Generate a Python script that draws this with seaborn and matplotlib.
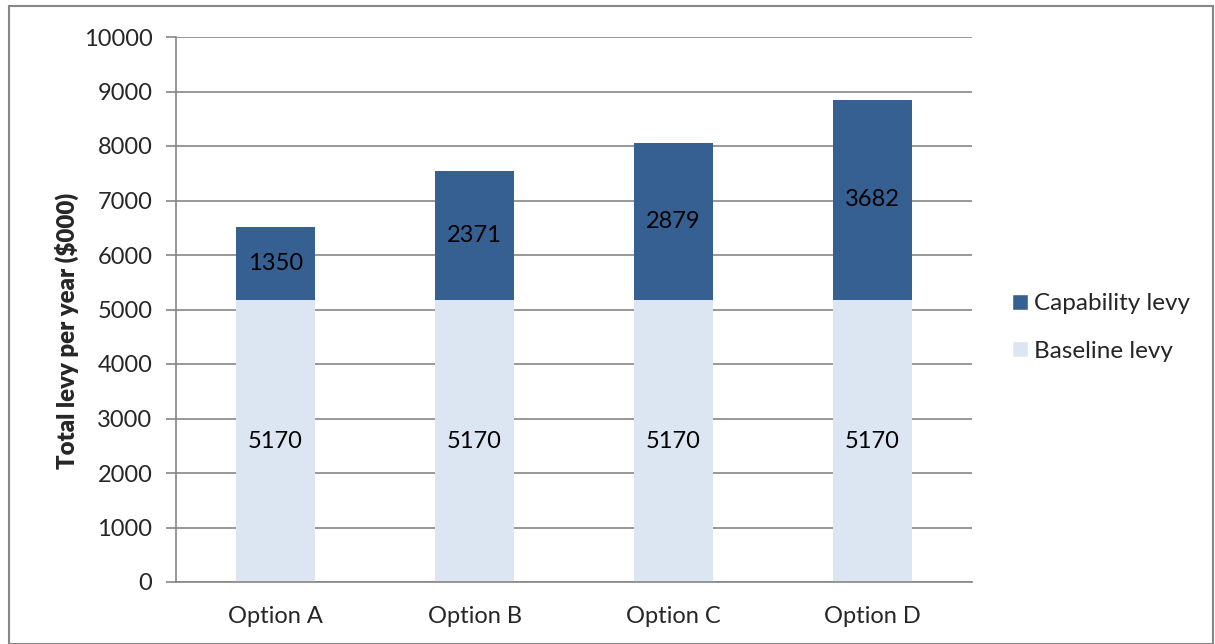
import matplotlib
matplotlib.use("Agg")
import matplotlib.pyplot as plt
import seaborn as sns
import pandas as pd
from matplotlib.patches import Rectangle, Patch

categories = ["Option A", "Option B", "Option C", "Option D"]
baseline = [5170, 5170, 5170, 5170]
capability = [1350, 2371, 2879, 3682]
yticks = [0, 1000, 2000, 3000, 4000, 5000, 6000, 7000, 8000, 9000, 10000]

sns.set_theme(style="white")
plt.rcParams['font.family'] = ['Lato', 'DejaVu Sans']

W, H = 1215, 644
fig = plt.figure(figsize=(W / 100, H / 100), dpi=100)
ax = fig.add_axes([176 / W, 1 - 582 / H, (972 - 176) / W, (582 - 37) / H])

df = pd.DataFrame({"cat": categories, "base": baseline, "cap": capability})
df["total"] = df["base"] + df["cap"]

cap_col = "#376092"
base_col = "#DCE6F2"
grid_col = "#868686"

ax.set_axisbelow(True)
ax.yaxis.grid(True, color=grid_col, linewidth=1.2)
sns.barplot(data=df, x="cat", y="total", color=cap_col, width=0.4, ax=ax,
            saturation=1, edgecolor="none")
sns.barplot(data=df, x="cat", y="base", color=base_col, width=0.4, ax=ax,
            saturation=1, edgecolor="none")

fs = 17
for i, (b, c) in enumerate(zip(baseline, capability)):
    ax.text(i, b / 2, str(b), ha="center", va="center", fontsize=fs, color="black")
    ax.text(i, b + c / 2, str(c), ha="center", va="center", fontsize=fs, color="black")

ax.set_xlim(-0.5, 3.5)
ax.set_ylim(0, 10000)
ax.set_yticks(yticks)
ax.set_yticklabels([str(t) for t in yticks], fontsize=fs)
ax.set_xticks([0, 1, 2, 3])
ax.set_xticklabels(categories, fontsize=fs)
ax.set_xlabel("")
ax.set_ylabel("Total levy per year ($000)")
lab = ax.yaxis.label
lab.set_fontsize(17.3)
lab.set_fontweight("heavy")
lab.set_verticalalignment("center")
ax.yaxis.set_label_coords((67 - 176) / 796, (582 - 331) / 545)

ax.set_xticks([-0.5, 0.5, 1.5, 2.5, 3.5], minor=True)
ax.tick_params(axis="x", which="major", length=0, pad=17)
ax.tick_params(axis="x", which="minor", length=7, width=1.2, color=grid_col, direction="out")
ax.tick_params(axis="y", which="major", length=7, width=1.2, color=grid_col, direction="out", pad=10,
               left=True)

for side in ["top", "right"]:
    ax.spines[side].set_visible(False)
for side in ["left", "bottom"]:
    ax.spines[side].set_visible(True)
    ax.spines[side].set_color(grid_col)
    ax.spines[side].set_linewidth(1.2)

handles = [Patch(facecolor=cap_col, label="Capability levy"),
           Patch(facecolor=base_col, label="Baseline levy")]
fig.legend(handles=handles, loc="center left", bbox_to_anchor=(1010 / W, 1 - 327.5 / H),
           frameon=False, fontsize=17.5, handlelength=0.62, handleheight=0.62,
           handletextpad=0.25, labelspacing=1.07, borderpad=0.1, borderaxespad=0)

fig.patches.append(Rectangle((9 / W, 0), (1213 - 9) / W, 1 - 6 / H, transform=fig.transFigure,
                             fill=False, edgecolor=grid_col, linewidth=1.5))

fig.savefig("out.png", dpi=100)
